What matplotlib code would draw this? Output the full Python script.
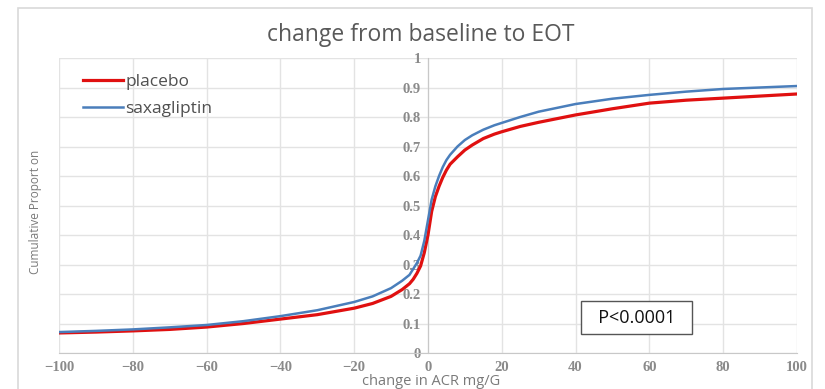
import numpy as np
import matplotlib.pyplot as plt
from matplotlib.patches import Rectangle

# ------------------ Data ------------------
x_placebo = [-100, -90, -80, -70, -60, -50, -40, -30, -20, -15, -10, -7, -5, -4, -3, -2, -1,
             0, 1, 2, 3, 4, 5, 6, 8, 10, 12, 15, 18, 20, 25, 30, 40, 50, 60, 70, 80, 90, 100]
y_placebo = [0.068, 0.071, 0.075, 0.080, 0.088, 0.100, 0.115, 0.130, 0.152, 0.168, 0.192, 0.215,
             0.235, 0.250, 0.270, 0.295, 0.340, 0.400, 0.480, 0.530, 0.565, 0.595, 0.620, 0.640,
             0.665, 0.688, 0.705, 0.727, 0.742, 0.750, 0.768, 0.782, 0.807, 0.828, 0.847, 0.857,
             0.864, 0.871, 0.878]

x_saxa = [-100, -90, -80, -70, -60, -50, -40, -30, -20, -15, -10, -7, -5, -4, -3, -2, -1,
          0, 1, 2, 3, 4, 5, 6, 8, 10, 12, 15, 18, 20, 25, 30, 40, 50, 60, 70, 80, 90, 100]
y_saxa = [0.071, 0.075, 0.080, 0.087, 0.095, 0.108, 0.125, 0.145, 0.173, 0.192, 0.220, 0.245,
          0.265, 0.285, 0.305, 0.330, 0.380, 0.450, 0.520, 0.565, 0.600, 0.630, 0.654, 0.672,
          0.700, 0.722, 0.738, 0.757, 0.772, 0.780, 0.800, 0.818, 0.844, 0.862, 0.875, 0.886,
          0.895, 0.900, 0.905]

x_ticks = [-100, -80, -60, -40, -20, 0, 20, 40, 60, 80, 100]
y_ticks = [0, 0.1, 0.2, 0.3, 0.4, 0.5, 0.6, 0.7, 0.8, 0.9, 1]
y_tick_labels = ["0", "0.1", "0.2", "0.3", "0.4", "0.5", "0.6", "0.7", "0.8", "0.9", "1"]

# ------------------ Figure ------------------
fig = plt.figure(figsize=(8.25, 3.89), dpi=100)
ax = fig.add_axes([0.0715, 0.0925, 0.8945, 0.7584])

# light chart frame like the spreadsheet export
fig.patches.append(Rectangle((18 / 825, -0.02), (812 - 18) / 825, 1 - 8 / 389 + 0.02,
                             transform=fig.transFigure, fill=False,
                             edgecolor="#d9d9d9", linewidth=1.2))

ax.plot(x_placebo, y_placebo, color="#e01010", linewidth=2.3, label="placebo", zorder=3)
ax.plot(x_saxa, y_saxa, color="#4a7ebb", linewidth=1.8, label="saxagliptin", zorder=4)

ax.set_xlim(-100, 100)
ax.set_ylim(0, 1)
ax.set_xticks(x_ticks)
ax.set_yticks(y_ticks)
ax.set_yticklabels(y_tick_labels)
ax.grid(True, color="#e3e3e3", linewidth=1)
ax.set_axisbelow(True)

# y axis sits at x = 0
ax.spines["left"].set_position(("data", 0))
ax.spines["left"].set_color("#c8c8c8")
ax.spines["bottom"].set_color("#c8c8c8")
ax.spines["top"].set_visible(False)
ax.spines["right"].set_visible(False)

ax.tick_params(axis="both", length=0, labelcolor="#8a8a8a", labelsize=10.5)
ax.tick_params(axis="x", pad=6)
ax.tick_params(axis="y", pad=5)
for lab in ax.get_xticklabels() + ax.get_yticklabels():
    lab.set_fontfamily("Liberation Serif")
    lab.set_fontweight("bold")

fig.text(0.51, 0.91, "change from baseline to EOT", ha="center", va="center",
         fontsize=16.5, color="#595959", family="Open Sans")
fig.text(0.523, 0.018, "change in ACR mg/G", ha="center", va="center",
         fontsize=10.5, color="#7a7a7a", family="Open Sans")
fig.text(0.043, 0.455, "Cumulative Proport on", ha="center", va="center", rotation=90,
         fontsize=8.5, color="#7a7a7a", family="Open Sans")

leg = ax.legend(loc="upper left", frameon=False, handlelength=2.3,
                handletextpad=0.1, labelspacing=0.65, bbox_to_anchor=(0.012, 1.0),
                prop={"family": "Open Sans", "size": 12.5})
for t in leg.get_texts():
    t.set_color("#505050")

ax.text(56.5, 0.12, "  P<0.0001  ", ha="center", va="center", fontsize=13,
        family="Open Sans", color="#111111",
        bbox=dict(boxstyle="square,pad=0.42", facecolor="white", edgecolor="#555555", linewidth=1))

fig.savefig("out.png", dpi=100)
